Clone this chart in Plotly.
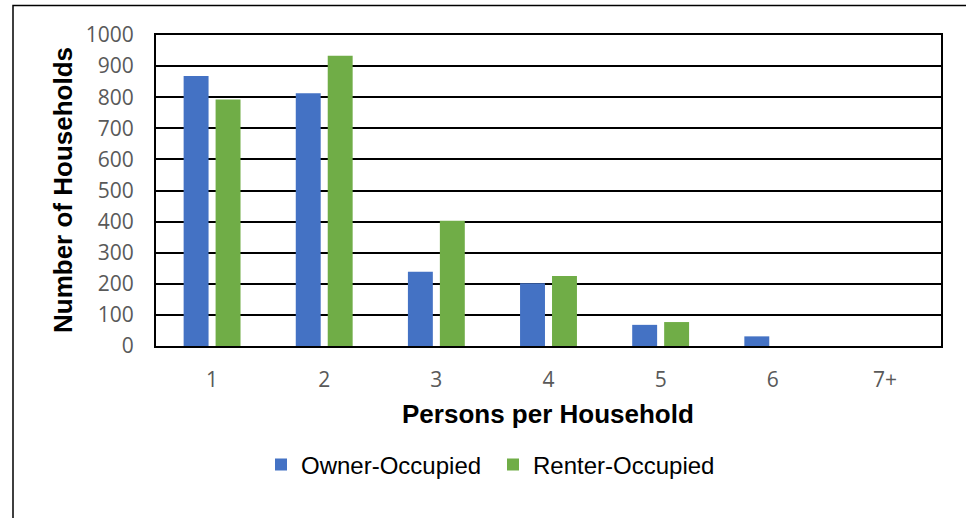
import plotly.graph_objects as go

categories = ["1", "2", "3", "4", "5", "6", "7+"]
owner_occupied = [868, 813, 239, 202, 68, 31, 0]
renter_occupied = [793, 933, 403, 225, 77, 0, 0]
y_ticks = list(range(0, 1001, 100))

W, H = 966, 518
L, R, T, B = 156, 25, 35, 172
pw, ph = W - L - R, H - T - B

def px_x(x):
    return (x - L) / pw

def px_y(y):
    return (H - B - y) / ph

fig = go.Figure()
fig.add_trace(go.Bar(x=categories, y=owner_occupied, name="Owner-Occupied",
                     marker=dict(color="#4472C4", line=dict(width=0))))
fig.add_trace(go.Bar(x=categories, y=renter_occupied, name="Renter-Occupied",
                     marker=dict(color="#70AD47", line=dict(width=0))))

fig.update_layout(
    width=W, height=H,
    margin=dict(l=L, r=R, t=T, b=B),
    paper_bgcolor="white", plot_bgcolor="white",
    barmode="group", bargap=0.43, bargroupgap=0.22,
    showlegend=True,
    legend=dict(orientation="h", x=px_x(493), xanchor="center",
                y=px_y(465), yanchor="middle",
                font=dict(family="Liberation Sans, Arial", size=24, color="#000000"),
                entrywidth=187, entrywidthmode="pixels",
                itemclick=False, bgcolor="rgba(0,0,0,0)"),
    font=dict(family="Liberation Sans, Arial"),
)

fig.update_xaxes(
    type="category", showline=True, mirror=True, linecolor="black", linewidth=2,
    showgrid=False, ticks="", ticklabelstandoff=14,
    tickfont=dict(family="Open Sans", size=21, color="#595959"),
)
fig.update_yaxes(
    range=[0, 1000], tickvals=y_ticks, showline=True, mirror=True,
    linecolor="black", linewidth=2, showgrid=True, gridcolor="black", gridwidth=1.5,
    ticks="", ticklabelstandoff=16, zeroline=False,
    tickfont=dict(family="Open Sans", size=21, color="#595959"),
)

fig.add_annotation(text="<b>Number of Households</b>", xref="paper", yref="paper",
                   x=px_x(63), y=px_y(190), xanchor="center", yanchor="middle",
                   textangle=-90, showarrow=False,
                   font=dict(family="Liberation Sans, Arial", size=26, color="black"))
fig.add_annotation(text="<b>Persons per Household</b>", xref="paper", yref="paper",
                   x=px_x(548), y=px_y(414), xanchor="center", yanchor="middle",
                   showarrow=False,
                   font=dict(family="Liberation Sans, Arial", size=26, color="black"))

fig.add_shape(type="rect", xref="paper", yref="paper",
              x0=px_x(13), x1=px_x(990), y0=px_y(560), y1=px_y(5.5),
              line=dict(color="black", width=1.5), fillcolor="rgba(0,0,0,0)", layer="below")

fig.write_html("out.html", config={"displayModeBar": False},
               post_script="document.body.style.margin='0';")
